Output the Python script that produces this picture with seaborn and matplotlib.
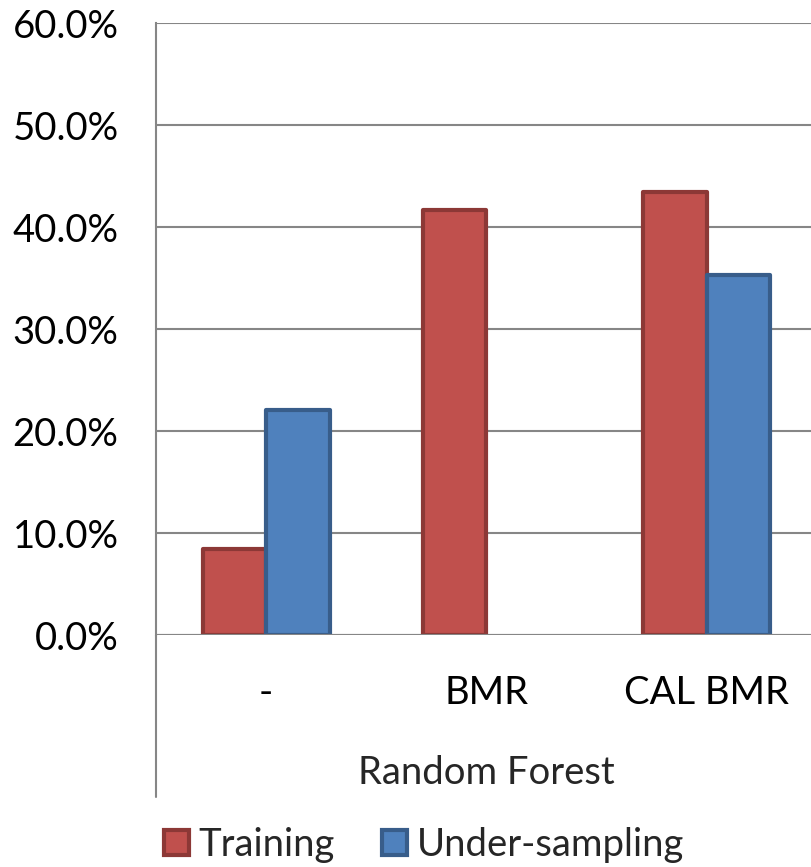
import numpy as np
import pandas as pd
import seaborn as sns
import matplotlib.pyplot as plt
from matplotlib.patches import Patch
from matplotlib.ticker import PercentFormatter, FixedLocator

# Chart data
categories = ["-", "BMR", "CAL BMR"]
series = ["Training", "Under-sampling"]
training = [8.4, 41.7, 43.4]
under_sampling = [22.1, np.nan, 35.3]
group_label = "Random Forest"
y_ticks = [0, 10, 20, 30, 40, 50, 60]

df = pd.DataFrame({
    "method": categories * 2,
    "series": [series[0]] * 3 + [series[1]] * 3,
    "value": training + under_sampling,
})

sns.set_theme(style="white")
plt.rcParams["font.family"] = ["Lato", "DejaVu Sans"]

FS = 27.5
GRID = "#868686"
faces = {"Training": "#C0504D", "Under-sampling": "#4F81BD"}
edges = {"Training": "#8C3836", "Under-sampling": "#385D8A"}
EDGE_W = 3.0

W, H = 811, 867
fig = plt.figure(figsize=(W / 100, H / 100), dpi=100)
ax = fig.add_axes([156 / W, (H - 635) / H, 661 / W, 612 / H])

sns.barplot(data=df, x="method", y="value", hue="series", order=categories,
            hue_order=series, palette=faces, saturation=1, width=0.575,
            errorbar=None, ax=ax, legend=False, zorder=3)

# Per-series outline colours
for container, name in zip(ax.containers, series):
    for patch in container:
        patch.set_edgecolor(edges[name])
        patch.set_linewidth(EDGE_W)
        patch.set_joinstyle("round")

ax.set_xlim(-0.5, 2.5)
ax.set_ylim(0, 60)
ax.yaxis.set_major_locator(FixedLocator(y_ticks))
ax.yaxis.set_major_formatter(PercentFormatter(decimals=1))
ax.grid(axis="y", color=GRID, linewidth=1.5, zorder=0)
ax.set_axisbelow(True)

for side in ["top", "right", "bottom"]:
    ax.spines[side].set_visible(False)
ax.spines["left"].set_color(GRID)
ax.spines["left"].set_linewidth(1.5)

ax.tick_params(axis="y", which="major", direction="out", length=10,
               width=1.5, color=GRID, pad=17, labelsize=FS, labelcolor="black")

# Category labels and separators below the baseline
ax.set_xticks(range(len(categories)))
ax.set_xticklabels(categories)
ax.tick_params(axis="x", which="major", length=0, pad=29, labelsize=FS,
               labelcolor="black")
ax.set_xticks([0.5, 1.5], minor=True)
ax.tick_params(axis="x", which="minor", direction="out", length=59,
               width=1.5, color=GRID)
ax.axhline(0, color=GRID, linewidth=1.5, zorder=4)
ax.set_xlabel("")
ax.set_ylabel("")

# Left axis continues down past the group label
ax.plot([-0.5, -0.5], [0, -162 / 612], transform=ax.get_xaxis_transform(),
        color=GRID, linewidth=1.5, clip_on=False)
ax.text(1.0, -138 / 612, group_label, transform=ax.get_xaxis_transform(),
        ha="center", va="center", fontsize=FS)

# Legend along the bottom
handles = [Patch(facecolor=faces[s], edgecolor=edges[s], linewidth=EDGE_W)
           for s in series]
fig.legend(handles, series, loc="center", bbox_to_anchor=(424 / W, 1 - 845 / H),
           ncol=2, frameon=False, fontsize=FS, handlelength=0.65,
           handleheight=0.65, handletextpad=0.25, columnspacing=1.25,
           borderaxespad=0, borderpad=0)

fig.savefig("out.png", dpi=100)
